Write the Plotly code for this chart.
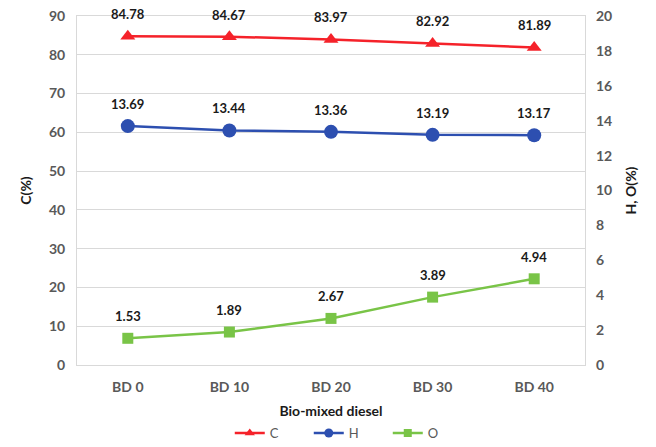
import plotly.graph_objects as go

# Elemental composition of the bio-mixed diesel blends
blends = ["BD 0", "BD 10", "BD 20", "BD 30", "BD 40"]
carbon = [84.78, 84.67, 83.97, 82.92, 81.89]
hydrogen = [13.69, 13.44, 13.36, 13.19, 13.17]
oxygen = [1.53, 1.89, 2.67, 3.89, 4.94]

RED = "#f5222a"
BLUE = "#2d4fb0"
GREEN = "#79c447"
FONT = "Lato"

styles = [
    ("C", carbon, "y", RED, "triangle-up", 13, 9),
    ("H", hydrogen, "y2", BLUE, "circle", 14, 9),
    ("O", oxygen, "y2", GREEN, "square", 11, 8),
]

fig = go.Figure()
for name, values, yaxis, color, symbol, size, legend_size in styles:
    fig.add_trace(go.Scatter(
        x=blends, y=values, name=name, mode="lines+markers", yaxis=yaxis,
        line=dict(color=color, width=2.5),
        marker=dict(symbol=symbol, size=size, color=color),
        showlegend=False,
    ))
for name, values, yaxis, color, symbol, size, legend_size in styles:
    # compact legend entries
    fig.add_trace(go.Scatter(
        x=[None], y=[None], name=name, mode="lines+markers", yaxis=yaxis,
        line=dict(color=color, width=2.5),
        marker=dict(symbol=symbol, size=legend_size, color=color),
        showlegend=True,
    ))

# Value labels above each point
annotations = []
for name, values, yaxis, *_ in styles:
    for cat, val in zip(blends, values):
        annotations.append(dict(
            x=cat, y=val, xref="x", yref=yaxis, text=f"<b>{val:.2f}</b>",
            showarrow=False, yshift=22,
            font=dict(family=FONT, size=13, color="#1a1a1a"),
        ))

tick_font = dict(family=FONT, size=14, color="#595959")
title_font = dict(family=FONT, size=14, color="#1a1a1a")

fig.update_layout(
    width=656, height=447,
    margin=dict(l=77, r=71, t=16, b=82, autoexpand=False),
    paper_bgcolor="white", plot_bgcolor="white",
    showlegend=True,
    legend=dict(
        orientation="h", x=0.534, xanchor="center", y=-0.195, yanchor="middle",
        font=dict(family=FONT, size=13, color="#595959"),
        itemwidth=30, tracegroupgap=0, entrywidth=34, bgcolor="rgba(0,0,0,0)",
    ),
    xaxis=dict(
        type="category", range=[-0.5, 4.5], automargin=False,
        showgrid=False, showline=True, linecolor="#d9d9d9", linewidth=1,
        mirror=True, ticks="", ticklabelstandoff=9,
        tickfont=dict(family=FONT, size=14, color="#595959"),
        tickprefix="<b>", ticksuffix="</b>",
        title=dict(text="<b>Bio-mixed diesel</b>", font=title_font, standoff=12),
    ),
    yaxis=dict(
        range=[0, 90], dtick=10, showgrid=True, gridcolor="#d9d9d9",
        zeroline=False, showline=True, linecolor="#d9d9d9", mirror=True,
        automargin=False,
        tickfont=tick_font, tickprefix="<b>", ticksuffix="</b>",
        ticklabelstandoff=8,
        title=dict(text="<b>C(%)</b>", font=title_font, standoff=14),
    ),
    yaxis2=dict(
        range=[0, 20], dtick=2, overlaying="y", side="right",
        showgrid=False, zeroline=False, showline=False, automargin=False,
        tickfont=tick_font, tickprefix="<b>", ticksuffix="</b>",
        ticklabelstandoff=10,
        title=dict(text="<b>H, O(%)</b>", font=title_font, standoff=14),
    ),
    annotations=annotations,
)

fig.write_html("out.html")
